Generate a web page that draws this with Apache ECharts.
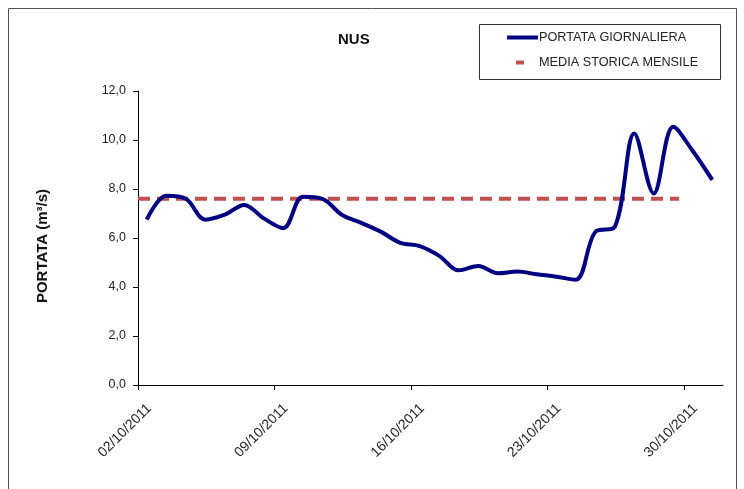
<!DOCTYPE html>
<html><head><meta charset="utf-8">
<script src="https://cdn.jsdelivr.net/npm/echarts@6/dist/echarts.min.js"></script>
<style>html,body{margin:0;padding:0;background:#fff}#c{width:744px;height:489px}</style>
</head><body><div id="c"></div>
<script>
// ---- data ----
const dates = ['02/10/2011','03/10/2011','04/10/2011','05/10/2011','06/10/2011','07/10/2011','08/10/2011',
  '09/10/2011','10/10/2011','11/10/2011','12/10/2011','13/10/2011','14/10/2011','15/10/2011',
  '16/10/2011','17/10/2011','18/10/2011','19/10/2011','20/10/2011','21/10/2011','22/10/2011',
  '23/10/2011','24/10/2011','25/10/2011','26/10/2011','27/10/2011','28/10/2011','29/10/2011',
  '30/10/2011','31/10/2011'];
const portata = [6.75, 7.72, 7.6, 6.75, 6.95, 7.35, 6.8, 6.4, 7.68, 7.6, 6.95, 6.62, 6.26, 5.8, 5.67,
  5.27, 4.68, 4.86, 4.56, 4.63, 4.52, 4.42, 4.3, 6.25, 6.45, 10.27, 7.82, 10.54, 9.55, 8.37];
const mediaValue = 7.6;
const mediaSpanDays = [0, 27.75];      // from start of 02/10 to late 29/10
const tickLabels = ['02/10/2011','09/10/2011','16/10/2011','23/10/2011','30/10/2011'];
const yTicks = [0, 2, 4, 6, 8, 10, 12];

const dayOffset = 0.45;  // daily value plotted within its day
const portataData = portata.map((v, i) => [i + dayOffset, v]);
const mediaData = mediaSpanDays.map(d => [d, mediaValue]);

const chart = echarts.init(document.getElementById('c'));
const font = 'Liberation Sans, Arial, sans-serif';
chart.setOption({
  backgroundColor: '#fff',
  animation: false,
  title: {
    text: 'NUS', left: 338, top: 32, padding: 0,
    textStyle: { fontFamily: font, fontSize: 15, fontWeight: 'bold', color: '#111' }
  },
  legend: [
    { data: ['PORTATA GIORNALIERA'], left: 507, top: 31, padding: 0, icon: 'rect',
      itemWidth: 31, itemHeight: 4, selectedMode: false,
      textStyle: { fontFamily: font, fontSize: 12.7, color: '#222', padding: [0, 0, 0, -4] } },
    { data: ['MEDIA STORICA MENSILE'], left: 516, top: 56, padding: 0, icon: 'rect',
      itemWidth: 8, itemHeight: 4, selectedMode: false,
      textStyle: { fontFamily: font, fontSize: 12.7, color: '#222', padding: [0, 0, 0, 10] } }
  ],
  graphic: [
    { type: 'rect', shape: { x: 8.5, y: 8.5, width: 728, height: 500 },
      style: { fill: 'none', stroke: '#555', lineWidth: 1 }, silent: true },
    { type: 'rect', shape: { x: 479.5, y: 24.5, width: 241, height: 55 },
      style: { fill: 'none', stroke: '#333', lineWidth: 1 }, silent: true }
  ],
  grid: { left: 138, right: 21, top: 91, bottom: 104, containLabel: false },
  xAxis: {
    type: 'value', min: 0, max: 30, interval: 7,
    axisLine: { lineStyle: { color: '#000', width: 1 } },
    axisTick: { show: true, length: 5, inside: false, lineStyle: { color: '#000' } },
    splitLine: { show: false },
    axisLabel: {
      rotate: 45, margin: 10, fontFamily: font, fontSize: 14, color: '#222',
      verticalAlign: 'top', padding: [9, 0, 0, 0],
      showMaxLabel: false,
      formatter: v => (v % 7 === 0 && tickLabels[v / 7]) ? tickLabels[v / 7] : ''
    }
  },
  yAxis: {
    type: 'value', min: 0, max: 12, interval: 2,
    name: 'PORTATA (m³/s)', nameLocation: 'middle', nameGap: 88, nameRotate: 90,
    nameTextStyle: { fontFamily: font, fontSize: 15, fontWeight: 'bold', color: '#111', padding: [0, 16, 0, 0] },
    axisLine: { show: true, lineStyle: { color: '#000', width: 1 } },
    axisTick: { show: true, length: 5, inside: false, lineStyle: { color: '#000' } },
    splitLine: { show: false },
    axisLabel: {
      margin: 12, fontFamily: font, fontSize: 12.5, color: '#222',
      formatter: v => yTicks.includes(v) ? v.toFixed(1).replace('.', ',') : ''
    }
  },
  series: [
    { name: 'PORTATA GIORNALIERA', type: 'line', data: portataData, smooth: 0.35,
      showSymbol: false, symbol: 'none', z: 3,
      itemStyle: { color: '#000080' },
      lineStyle: { color: '#000080', width: 4 } },
    { name: 'MEDIA STORICA MENSILE', type: 'line', data: mediaData,
      showSymbol: false, symbol: 'none', z: 2,
      itemStyle: { color: '#c0504d' },
      lineStyle: { color: '#c0504d', width: 4, type: [12, 7], cap: 'butt' } }
  ]
});
</script></body></html>
